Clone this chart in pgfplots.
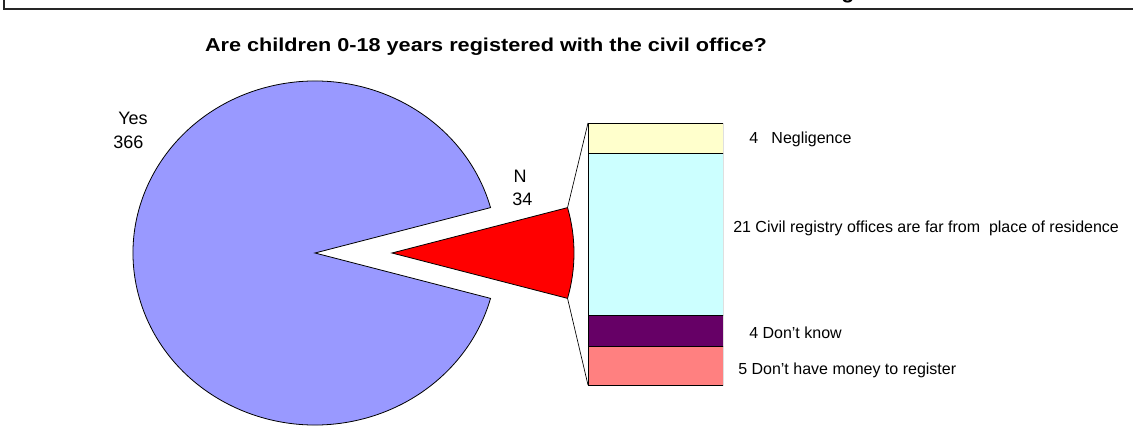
\documentclass[border=0pt]{standalone}
\usepackage{fontspec}
\setmainfont{Liberation Sans}
\usepackage{pgfplots}
\pgfplotsset{compat=1.18}

\definecolor{yescol}{HTML}{9999FF}
\definecolor{nocol}{HTML}{FF0000}
\definecolor{negcol}{HTML}{FFFFCC}
\definecolor{farcol}{HTML}{CCFFFF}
\definecolor{dkcol}{HTML}{660066}
\definecolor{moneycol}{HTML}{FF8080}

% pie values
\def\yesval{366}
\def\noval{34}

\begin{document}
\begin{tikzpicture}[x=0.75pt,y=0.75pt]
\useasboundingbox (0,0) rectangle (1133,437);
\pgfmathsetmacro\half{180*\noval/(\yesval+\noval)}
\pgfmathsetmacro\cx{136.5*cos(\half)}
\pgfmathsetmacro\cy{129*sin(\half)}

% pie part, in pixel-like units
\begin{axis}[
  at={(0pt,0pt)}, anchor=south west,
  x=0.75pt, y=0.75pt,
  xmin=0, xmax=1133, ymin=0, ymax=437,
  enlargelimits=false,
  hide axis, clip=false,
]
  % frame (cut off at the top)
  \draw[black!85, line width=1.2pt] (axis cs:4,437) -- (axis cs:4,428) -- (axis cs:1133,428);
  \node[anchor=base, font=\bfseries\fontsize{16}{18}\selectfont] at (axis cs:848,438.5) {g};
  \node at (axis cs:486,390)
    {\scalebox{1.16}[1]{\bfseries\fontsize{14}{16}\selectfont Are children 0-18 years registered with the civil office?}};

  % Yes
  \filldraw[fill=yescol, draw=black, line width=0.6pt]
    (axis cs:315,184) -- ++(\cx pt,\cy pt)
    arc[start angle=\half, end angle={360-\half}, x radius=136.5pt, y radius=129pt] -- cycle;
  % N (exploded)
  \filldraw[fill=nocol, draw=black, line width=0.6pt]
    (axis cs:392,184) -- ++(\cx pt,-\cy pt)
    arc[start angle=-\half, end angle=\half, x radius=136.5pt, y radius=129pt] -- cycle;
  % connectors
  \draw[line width=0.5pt] (axis cs:392,184) ++(\cx pt,\cy pt) -- (axis cs:588,314);
  \draw[line width=0.5pt] (axis cs:392,184) ++(\cx pt,-\cy pt) -- (axis cs:588,52);

  \begin{scope}[font=\fontsize{13.5}{16}\selectfont, inner sep=0pt]
    \node[anchor=west] at (axis cs:118,319) {Yes};
    \node[anchor=west] at (axis cs:113,295) {366};
    \node at (axis cs:520,261) {N};
    \node[anchor=west] at (axis cs:512,238) {34};
  \end{scope}

  \begin{scope}[font=\fontsize{12}{14}\selectfont, inner sep=0pt]
    \node[anchor=base west] at (axis cs:749,293) {4\ \ \ Negligence};
    \node[anchor=base west] at (axis cs:733,205) {21 Civil registry offices are far from\ \ place of residence};
    \node[anchor=base west] at (axis cs:749,99) {4 Don’t know};
    \node[anchor=base west] at (axis cs:738,63) {5 Don’t have money to register};
  \end{scope}
\end{axis}

% bar of the N slice
\begin{axis}[
  at={(441pt,39pt)}, anchor=south west,
  scale only axis, width=101.25pt, height=196.5pt,
  xmin=0.5, xmax=1.5, ymin=0, ymax=34,
  enlargelimits=false,
  hide axis,
  ybar stacked, bar width=1,
  every axis plot/.append style={draw=black, line width=0.75pt},
]
  \addplot[fill=moneycol] coordinates {(1,5)};
  \addplot[fill=dkcol] coordinates {(1,4)};
  \addplot[fill=farcol] coordinates {(1,21)};
  \addplot[fill=negcol] coordinates {(1,4)};
\end{axis}
\end{tikzpicture}
\end{document}
